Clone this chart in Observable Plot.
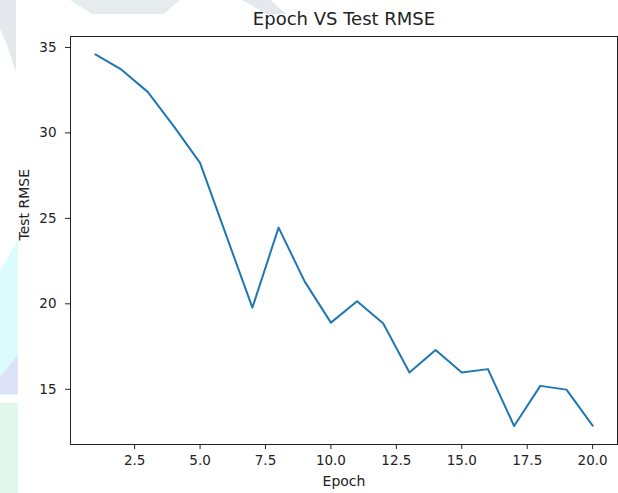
<!DOCTYPE html>
<html>
<head>
<meta charset="utf-8">
<script src="https://cdn.jsdelivr.net/npm/d3@7"></script>
<script src="https://cdn.jsdelivr.net/npm/@observablehq/plot@0.6"></script>
<style>
  html, body { margin: 0; padding: 0; background: #ffffff; }
  #wrap { position: relative; width: 618px; height: 493px; overflow: hidden; }
  .wm { position: absolute; }
  #chart { position: absolute; left: 0; top: 0; }
</style>
</head>
<body>
<div id="wrap">
  <!-- faint watermark decoration behind the chart -->
  <div class="wm" style="left:0;top:0;width:16px;height:72px;background:#e3e9ec;clip-path:polygon(0 0,100% 0,100% 100%,40% 60%,0 40%);"></div>
  <div class="wm" style="left:70px;top:0;width:110px;height:14px;background:#e6ecee;clip-path:polygon(0 0,100% 0,85% 100%,20% 100%);"></div>
  <div class="wm" style="left:242px;top:0;width:44px;height:14px;background:#e3e9ec;clip-path:polygon(0 0,65% 0,100% 100%,55% 100%);"></div>
  <div class="wm" style="left:0;top:240px;width:18px;height:155px;background:#dcfbfc;clip-path:polygon(0 20%,100% 0,100% 100%,0 100%);"></div>
  <div class="wm" style="left:0;top:355px;width:18px;height:39px;background:#dde3f6;clip-path:polygon(0 55%,100% 0,100% 100%,0 100%);"></div>
  <div class="wm" style="left:0;top:403px;width:18px;height:90px;background:#e2f7ec;"></div>
  <div id="chart"></div>
</div>
<script>
const epochs = [1, 2, 3, 4, 5, 6, 7, 8, 9, 10, 11, 12, 13, 14, 15, 16, 17, 18, 19, 20];
const rmse = [34.59, 33.7, 32.4, 30.38, 28.25, 24.0, 19.78, 24.46, 21.3, 18.9,
              20.15, 18.85, 15.98, 17.3, 15.98, 16.18, 12.85, 15.2, 14.98, 12.87];
const xTicks = [2.5, 5, 7.5, 10, 12.5, 15, 17.5, 20];
const yTicks = [15, 20, 25, 30, 35];
const title = "Epoch VS Test RMSE";
const xLabel = "Epoch";
const yLabel = "Test RMSE";

const data = epochs.map((e, i) => ({epoch: e, rmse: rmse[i]}));

const chart = Plot.plot({
  width: 618,
  height: 493,
  marginTop: 36,
  marginBottom: 49,
  marginLeft: 70,
  marginRight: 1,
  style: {fontFamily: "DejaVu Sans", fontSize: "13.5px", background: "transparent", color: "#222", overflow: "visible"},
  x: {domain: [0.05, 20.95]},
  y: {domain: [11.77, 35.64]},
  marks: [
    Plot.line(data, {x: "epoch", y: "rmse", stroke: "#1f77b4", strokeWidth: 2, strokeLinejoin: "round"}),
    Plot.frame({stroke: "#222", strokeWidth: 1}),
    Plot.axisX({ticks: xTicks, tickFormat: d3.format(".1f"), tickSize: 5, tickPadding: 6, label: null, fontSize: 13.5, stroke: "#222", fill: "#222"}),
    Plot.axisY({ticks: yTicks, tickSize: 5, tickPadding: 9, label: null, fontSize: 13.5, stroke: "#222", fill: "#222"}),
    Plot.text([xLabel], {frameAnchor: "bottom", dy: 41, fontSize: 14, fill: "#222"}),
    Plot.text([yLabel], {frameAnchor: "left", rotate: -90, dx: -46, fontSize: 14, fill: "#222"}),
    Plot.text([title], {frameAnchor: "top", dy: -24, fontSize: 18, fill: "#222"})
  ]
});
document.getElementById("chart").appendChild(chart);
</script>
</body>
</html>
